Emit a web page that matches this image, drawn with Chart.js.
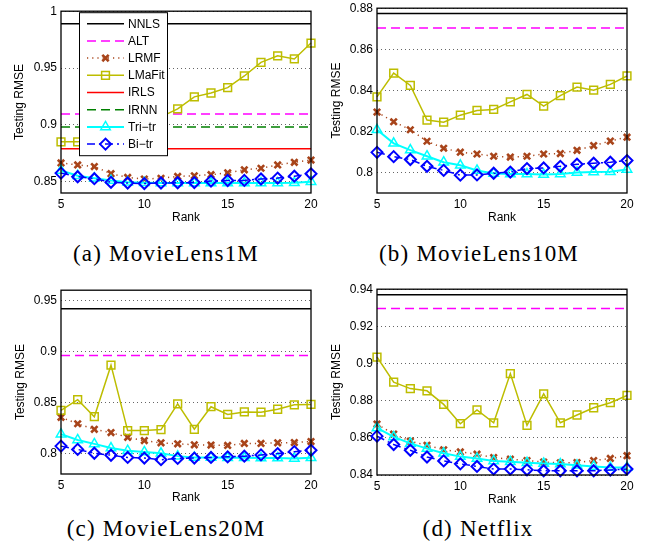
<!DOCTYPE html>
<html>
<head>
<meta charset="utf-8">
<script src="https://cdn.jsdelivr.net/npm/chart.js@4.4.0/dist/chart.umd.min.js"></script>
<style>
  html, body { margin: 0; padding: 0; background: #ffffff; }
  body { width: 645px; height: 547px; position: relative; overflow: hidden; }
  canvas { position: absolute; display: block; }
  .cap { position: absolute; font-family: "Liberation Serif", "DejaVu Serif", serif; font-size: 23px;
         letter-spacing: 1.2px; line-height: 1; white-space: nowrap; color: #000;
         transform: translate(-50%, -50%); }
</style>
</head>
<body>
<canvas id="pa" width="322" height="230" style="left:0px;top:0px"></canvas>
<canvas id="pb" width="323" height="233" style="left:322px;top:-3px"></canvas>
<canvas id="pc" width="322" height="232" style="left:0px;top:279px"></canvas>
<canvas id="pd" width="323" height="234" style="left:322px;top:278px"></canvas>
<div class="cap" style="left:166px;top:253px">(a) MovieLens1M</div>
<div class="cap" style="left:479px;top:253px">(b) MovieLens10M</div>
<div class="cap" style="left:166px;top:528px">(c) MovieLens20M</div>
<div class="cap" style="left:478px;top:528px">(d) Netflix</div>
<script>
// ---------------- DATA ----------------
const ranks = [5, 6, 7, 8, 9, 10, 11, 12, 13, 14, 15, 16, 17, 18, 19, 20];
const xTickValues = [5, 10, 15, 20];
const methods = ['NNLS', 'ALT', 'LRMF', 'LMaFit', 'IRLS', 'IRNN', 'Tri\u2212tr', 'Bi\u2212tr'];

// (a) MovieLens1M
const ml1mLRMF   = [0.8665, 0.8647, 0.8633, 0.8570, 0.8537, 0.8523, 0.8530, 0.8546, 0.8552, 0.8561, 0.8578, 0.8604, 0.8618, 0.8647, 0.8670, 0.8690];
const ml1mLMaFit = [0.8850, 0.8850, 0.8880, 0.8920, 0.8970, 0.9020, 0.9070, 0.9140, 0.9246, 0.9280, 0.9327, 0.9430, 0.9550, 0.9607, 0.9580, 0.9720];
const ml1mTri    = [0.8598, 0.8552, 0.8530, 0.8510, 0.8494, 0.8490, 0.8487, 0.8487, 0.8487, 0.8488, 0.8488, 0.8488, 0.8489, 0.8489, 0.8490, 0.8500];
const ml1mBi     = [0.8575, 0.8543, 0.8526, 0.8494, 0.8488, 0.8483, 0.8488, 0.8490, 0.8492, 0.8505, 0.8510, 0.8511, 0.8523, 0.8531, 0.8548, 0.8569];
const ml1mFlat   = [0.9890, 0.9095, 0.8790, 0.8980];   // NNLS, ALT, IRLS, IRNN
const ml1mYTicks = [0.85, 0.90, 0.95, 1.00];

// (b) MovieLens10M
const ml10mLRMF   = [0.8294, 0.8247, 0.8208, 0.8152, 0.8118, 0.8099, 0.8090, 0.8079, 0.8075, 0.8079, 0.8090, 0.8092, 0.8108, 0.8131, 0.8153, 0.8172];
const ml10mLMaFit = [0.8368, 0.8484, 0.8424, 0.8255, 0.8245, 0.8279, 0.8302, 0.8307, 0.8344, 0.8380, 0.8323, 0.8374, 0.8416, 0.8401, 0.8429, 0.8470];
const ml10mTri    = [0.8208, 0.8142, 0.8109, 0.8079, 0.8050, 0.8035, 0.8010, 0.7995, 0.7993, 0.7992, 0.7990, 0.7993, 0.8000, 0.8002, 0.8003, 0.8015];
const ml10mBi     = [0.8098, 0.8077, 0.8063, 0.8030, 0.8010, 0.7987, 0.7988, 0.7996, 0.8002, 0.8019, 0.8022, 0.8030, 0.8040, 0.8045, 0.8050, 0.8058];
const ml10mFlat   = [0.8774, 0.8703];                   // NNLS, ALT
const ml10mYTicks = [0.80, 0.82, 0.84, 0.86, 0.88];

// (c) MovieLens20M
const ml20mLRMF   = [0.8355, 0.8292, 0.8238, 0.8206, 0.8159, 0.8127, 0.8105, 0.8096, 0.8086, 0.8083, 0.8080, 0.8099, 0.8099, 0.8105, 0.8108, 0.8118];
const ml20mLMaFit = [0.8424, 0.8528, 0.8361, 0.8866, 0.8225, 0.8225, 0.8235, 0.8487, 0.8238, 0.8459, 0.8383, 0.8408, 0.8405, 0.8434, 0.8478, 0.8481];
const ml20mTri    = [0.8190, 0.8133, 0.8095, 0.8054, 0.8028, 0.8016, 0.8003, 0.7975, 0.7962, 0.7962, 0.7959, 0.7959, 0.7956, 0.7956, 0.7953, 0.7959];
const ml20mBi     = [0.8073, 0.8041, 0.8003, 0.7984, 0.7962, 0.7956, 0.7940, 0.7953, 0.7956, 0.7962, 0.7968, 0.7975, 0.7987, 0.8000, 0.8019, 0.8032];
const ml20mFlat   = [0.9418, 0.8960];                   // NNLS, ALT
const ml20mYTicks = [0.80, 0.85, 0.90, 0.95];

// (d) Netflix
const nfLRMF   = [0.8674, 0.8620, 0.8582, 0.8560, 0.8536, 0.8524, 0.8512, 0.8494, 0.8485, 0.8478, 0.8470, 0.8466, 0.8467, 0.8478, 0.8489, 0.8504];
const nfLMaFit = [0.9035, 0.8900, 0.8865, 0.8853, 0.8780, 0.8676, 0.8750, 0.8681, 0.8946, 0.8667, 0.8837, 0.8681, 0.8723, 0.8762, 0.8789, 0.8828];
const nfTri    = [0.8653, 0.8605, 0.8570, 0.8542, 0.8517, 0.8499, 0.8489, 0.8476, 0.8471, 0.8466, 0.8462, 0.8459, 0.8452, 0.8446, 0.8441, 0.8441];
const nfBi     = [0.8609, 0.8564, 0.8533, 0.8497, 0.8476, 0.8460, 0.8446, 0.8432, 0.8432, 0.8428, 0.8423, 0.8423, 0.8423, 0.8423, 0.8427, 0.8432];
const nfFlat   = [0.9370, 0.9296];                      // NNLS, ALT
const nfYTicks = [0.84, 0.86, 0.88, 0.90, 0.92, 0.94];

// ---------------- STYLES ----------------
const styles = {
  'NNLS':       { color: '#000000', dash: [],           width: 1.5, ps: false },
  'ALT':        { color: '#ff00ff', dash: [9, 5],       width: 1.5, ps: false },
  'LRMF':       { color: '#a8441a', dash: [1.2, 4],     width: 1.5, ps: 'crossRot', r: 4.5, pw: 2.6 },
  'LMaFit':     { color: '#bdbd00', dash: [],           width: 1.5, ps: 'rect',     r: 5.5, pw: 1.5 },
  'IRLS':       { color: '#ff0000', dash: [],           width: 1.5, ps: false },
  'IRNN':       { color: '#008000', dash: [9, 5],       width: 1.5, ps: false },
  'Tri\u2212tr':{ color: '#00ffff', dash: [],           width: 2.0, ps: 'triangle', r: 5.5, pw: 1.5 },
  'Bi\u2212tr': { color: '#0000ff', dash: [8, 4, 2, 4], width: 1.5, ps: 'rectRot',  r: 5.5, pw: 2.0 }
};

Chart.defaults.font.family = '"Liberation Sans", Arial, Helvetica, sans-serif';
Chart.defaults.font.size = 12;
Chart.defaults.color = '#000000';

function seriesData(vals) { return ranks.map((r, i) => ({ x: r, y: vals[i] })); }
function flatData(v) { return [{ x: ranks[0], y: v }, { x: ranks[ranks.length - 1], y: v }]; }

function makeDataset(name, data, idx) {
  const s = styles[name];
  return {
    label: name, data: data,
    borderColor: s.color, borderWidth: s.width, borderDash: s.dash,
    backgroundColor: 'transparent', fill: false, tension: 0,
    pointStyle: s.ps || 'circle', pointRadius: s.ps ? s.r : 0, pointHoverRadius: s.ps ? s.r : 0,
    pointBorderColor: s.color, pointBackgroundColor: 'transparent', pointBorderWidth: s.pw || 1,
    clip: false, order: 100 - idx
  };
}

function drawMarker(ctx, s, x, y) {
  if (!s.ps) return;
  ctx.save();
  ctx.setLineDash([]);
  ctx.strokeStyle = s.color; ctx.fillStyle = 'rgba(0,0,0,0)'; ctx.lineWidth = s.pw;
  if (Chart.helpers && Chart.helpers.drawPoint) {
    Chart.helpers.drawPoint(ctx, { pointStyle: s.ps, rotation: 0, radius: s.r, borderWidth: s.pw }, x, y);
  }
  ctx.restore();
}

const framePlugin = {
  id: 'frameAndLegend',
  afterDatasetsDraw(chart, args, opts) {
    const ctx = chart.ctx, a = chart.chartArea;
    ctx.save();
    ctx.setLineDash([]);
    ctx.strokeStyle = '#000'; ctx.lineWidth = 1.3;
    ctx.strokeRect(a.left, a.top, a.right - a.left, a.bottom - a.top);
    ctx.restore();
    if (!opts || !opts.show) return;
    // legend box
    const bx = a.left + 18, by = a.top + 1, bw = 88, bh = 143;
    ctx.save();
    ctx.fillStyle = '#ffffff';
    ctx.fillRect(bx, by, bw, bh);
    ctx.strokeStyle = '#000'; ctx.lineWidth = 1;
    ctx.strokeRect(bx + 0.5, by + 0.5, bw, bh);
    methods.forEach((name, i) => {
      const s = styles[name];
      const y = by + 11.5 + i * 17.2;
      const x1 = bx + 8, x2 = bx + 45;
      ctx.save();
      ctx.strokeStyle = s.color; ctx.lineWidth = s.width; ctx.setLineDash(s.dash);
      ctx.beginPath(); ctx.moveTo(x1, y); ctx.lineTo(x2, y); ctx.stroke();
      ctx.restore();
      drawMarker(ctx, s, (x1 + x2) / 2, y);
      ctx.fillStyle = '#000';
      ctx.font = '12px "Liberation Sans", Arial, sans-serif';
      ctx.textBaseline = 'middle'; ctx.textAlign = 'left';
      ctx.fillText(name, bx + 49, y + 0.5);
    });
    ctx.restore();
  }
};

function buildPanel(id, p) {
  const datasets = [];
  p.names.forEach(name => {
    const idx = methods.indexOf(name);
    datasets.push(makeDataset(name, p.data[name], idx));
  });
  new Chart(document.getElementById(id), {
    type: 'line',
    data: { datasets: datasets },
    plugins: [framePlugin],
    options: {
      responsive: false, animation: false, devicePixelRatio: 1,
      layout: { padding: { left: 0, right: p.padRight, top: 8, bottom: 0 } },
      plugins: { legend: { display: false }, tooltip: { enabled: false }, frameAndLegend: { show: p.legend } },
      scales: {
        x: {
          type: 'linear', min: 5, max: 20,
          afterBuildTicks: ax => { ax.ticks = xTickValues.map(v => ({ value: v })); },
          afterFit: sc => { sc.height = 37; },
          grid: { display: false, drawTicks: false },
          border: { display: false },
          ticks: { padding: 4, color: '#000', maxRotation: 0, font: { size: 12 } },
          title: { display: true, text: 'Rank', color: '#000', font: { size: 12 }, padding: { top: 0, bottom: p.xTitlePad } }
        },
        y: {
          type: 'linear', min: p.yMin, max: p.yMax,
          afterBuildTicks: ax => { ax.ticks = p.yTicks.map(v => ({ value: v })); },
          afterFit: sc => { sc.width = p.yWidth; },
          grid: { color: '#666666', lineWidth: 1, drawTicks: false },
          border: { display: false, dash: [1, 3] },
          ticks: { padding: 4, color: '#000', font: { size: 12 },
                   callback: v => String(parseFloat(Number(v).toFixed(2))) },
          title: { display: true, text: 'Testing RMSE', color: '#000', font: { size: 12 }, padding: { top: p.yTitlePad, bottom: 0 } }
        }
      }
    }
  });
}

buildPanel('pa', {
  names: methods, legend: true, yMin: 0.84, yMax: 1.0, yTicks: ml1mYTicks,
  yWidth: 61, padRight: 11, xTitlePad: 4.8, yTitlePad: 12.8,
  data: {
    'NNLS': flatData(ml1mFlat[0]), 'ALT': flatData(ml1mFlat[1]), 'LRMF': seriesData(ml1mLRMF),
    'LMaFit': seriesData(ml1mLMaFit), 'IRLS': flatData(ml1mFlat[2]), 'IRNN': flatData(ml1mFlat[3]),
    'Tri\u2212tr': seriesData(ml1mTri), 'Bi\u2212tr': seriesData(ml1mBi)
  }
});
buildPanel('pb', {
  names: ['NNLS', 'ALT', 'LRMF', 'LMaFit', 'Tri\u2212tr', 'Bi\u2212tr'], legend: false,
  yMin: 0.79, yMax: 0.88, yTicks: ml10mYTicks,
  yWidth: 55, padRight: 18, xTitlePad: 4.8, yTitlePad: 7.5,
  data: {
    'NNLS': flatData(ml10mFlat[0]), 'ALT': flatData(ml10mFlat[1]), 'LRMF': seriesData(ml10mLRMF),
    'LMaFit': seriesData(ml10mLMaFit), 'Tri\u2212tr': seriesData(ml10mTri), 'Bi\u2212tr': seriesData(ml10mBi)
  }
});
buildPanel('pc', {
  names: ['NNLS', 'ALT', 'LRMF', 'LMaFit', 'Tri\u2212tr', 'Bi\u2212tr'], legend: false,
  yMin: 0.78, yMax: 0.96, yTicks: ml20mYTicks,
  yWidth: 61, padRight: 11, xTitlePad: 5.8, yTitlePad: 13.5,
  data: {
    'NNLS': flatData(ml20mFlat[0]), 'ALT': flatData(ml20mFlat[1]), 'LRMF': seriesData(ml20mLRMF),
    'LMaFit': seriesData(ml20mLMaFit), 'Tri\u2212tr': seriesData(ml20mTri), 'Bi\u2212tr': seriesData(ml20mBi)
  }
});
buildPanel('pd', {
  names: ['NNLS', 'ALT', 'LRMF', 'LMaFit', 'Tri\u2212tr', 'Bi\u2212tr'], legend: false,
  yMin: 0.84, yMax: 0.94, yTicks: nfYTicks,
  yWidth: 55, padRight: 18, xTitlePad: 4.8, yTitlePad: 7.5,
  data: {
    'NNLS': flatData(nfFlat[0]), 'ALT': flatData(nfFlat[1]), 'LRMF': seriesData(nfLRMF),
    'LMaFit': seriesData(nfLMaFit), 'Tri\u2212tr': seriesData(nfTri), 'Bi\u2212tr': seriesData(nfBi)
  }
});
</script>
</body>
</html>
